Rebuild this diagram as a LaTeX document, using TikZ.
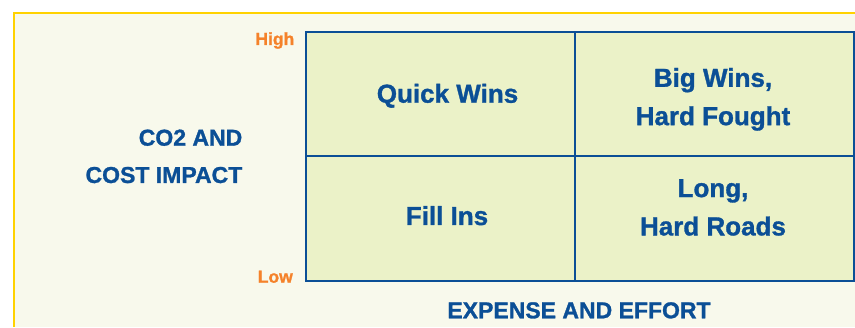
\documentclass[tikz,border=0pt]{standalone}
\usepackage{fontspec}
\setmainfont{Liberation Sans}[BoldFeatures={FakeBold=1.2}]
\definecolor{matrixblue}{HTML}{0B4F96}
\definecolor{levelorange}{HTML}{F5822A}
\definecolor{cellgreen}{HTML}{EBF2C8}
\definecolor{paper}{HTML}{F8F9EC}
\definecolor{frameyellow}{HTML}{FFD200}
\begin{document}
\begin{tikzpicture}[
    x=1pt, y=1pt,
    quadrant/.style={
      inner sep=0pt,
      align=center,
      text=matrixblue,
      font=\bfseries\fontsize{26}{38.3}\selectfont
    },
    axislabel/.style={
      inner sep=0pt,
      text=matrixblue,
      font=\bfseries\fontsize{23}{37.3}\selectfont
    },
    level/.style={
      inner sep=0pt,
      text=levelorange,
      font=\bfseries\fontsize{17.5}{21}\selectfont
    },
    grid line/.style={
      matrixblue,
      line width=2.5pt
    }
  ]

  \useasboundingbox (0, 0) rectangle (855, 327);
  \fill[white] (0, 0) rectangle (855, 327);
  \fill[paper] (14, 0) rectangle (855, 314);
  \draw[frameyellow, line width=2.5pt] (14, 0) -- (14, 314) -- (855, 314);

  % the 2x2 matrix
  \draw[grid line, fill=cellgreen] (306, 46) rectangle (854, 295);
  \draw[grid line] (575, 46) -- (575, 295);
  \draw[grid line] (306, 171) -- (854, 171);

  \node[quadrant, anchor=base] (quick) at (447.5, 224.3) {Quick Wins};
  \node[quadrant] (big) at (713, 227.7) {Big Wins,\\Hard Fought};
  \node[quadrant, anchor=base] (fill) at (447, 102) {Fill Ins};
  \node[quadrant] (long) at (713, 119.6) {Long,\\Hard Roads};

  % axes
  \node[level, anchor=base east] (high) at (294.5, 282) {High};
  \node[level, anchor=base east] (low) at (293, 44.3) {Low};
  \node[axislabel, align=right, anchor=east] (impact) at (242.5, 170.6) {CO2 AND\\COST IMPACT};
  \node[axislabel, anchor=base] (expense) at (579, 8.7) {EXPENSE AND EFFORT};

\end{tikzpicture}
\end{document}
